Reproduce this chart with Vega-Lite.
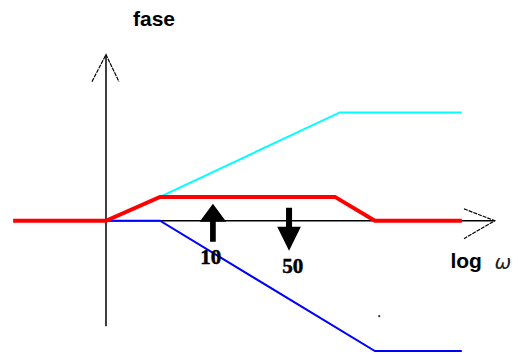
{
  "$schema": "https://vega.github.io/schema/vega-lite/v6.json",
  "width": 518,
  "height": 356,
  "autosize": {"type": "fit", "contains": "padding"},
  "padding": 0,
  "background": "white",
  "config": {"view": {"stroke": null}},
  "datasets": {
    "axes": [
      {"part": "h", "u": 0, "v": 0, "ord": 1},
      {"part": "h", "u": 7.2, "v": 0, "ord": 2},
      {"part": "v", "u": 0, "v": -4.42, "ord": 1},
      {"part": "v", "u": 0, "v": 6.96, "ord": 2},
      {"part": "hh", "u": 6.63, "v": 0.5, "ord": 1},
      {"part": "hh", "u": 7.2, "v": 0, "ord": 2},
      {"part": "hh", "u": 6.63, "v": -0.75, "ord": 3},
      {"part": "vh", "u": -0.26, "v": 5.83, "ord": 1},
      {"part": "vh", "u": 0, "v": 6.96, "ord": 2},
      {"part": "vh", "u": 0.24, "v": 5.83, "ord": 3}
    ],
    "curves": [
      {"series": "blue", "u": 0, "v": 0, "ord": 1},
      {"series": "blue", "u": 1, "v": 0, "ord": 2},
      {"series": "blue", "u": 4.98, "v": -5.46, "ord": 3},
      {"series": "blue", "u": 6.59, "v": -5.46, "ord": 4},
      {"series": "cyan", "u": 0, "v": 0, "ord": 1},
      {"series": "cyan", "u": 1, "v": 1, "ord": 2},
      {"series": "cyan", "u": 4.33, "v": 4.54, "ord": 3},
      {"series": "cyan", "u": 6.59, "v": 4.54, "ord": 4},
      {"series": "red", "u": -1.72, "v": 0, "ord": 1},
      {"series": "red", "u": 0, "v": 0, "ord": 2},
      {"series": "red", "u": 1, "v": 1, "ord": 3},
      {"series": "red", "u": 4.24, "v": 1, "ord": 4},
      {"series": "red", "u": 4.98, "v": 0, "ord": 5},
      {"series": "red", "u": 6.59, "v": 0, "ord": 6}
    ],
    "arrows": [
      {"dir": "up", "u": 1.98, "v": -0.083},
      {"dir": "down", "u": 3.39, "v": -0.354}
    ],
    "dots": [
      {"u": 5.06, "v": -4.0}
    ],
    "labels": [
      {"kind": "title", "text": "fase", "u": 0.889, "v": 8.42},
      {"kind": "title", "text": "log", "u": 6.67, "v": -1.71},
      {"kind": "omega", "text": "ω", "u": 7.35, "v": -1.75},
      {"kind": "num", "text": "10", "u": 1.94, "v": -1.58},
      {"kind": "num", "text": "50", "u": 3.46, "v": -1.92}
    ]
  },
  "layer": [
    {
      "data": {"name": "axes"},
      "transform": [{"filter": "datum.part === 'h' || datum.part === 'v'"}],
      "mark": {"type": "line", "color": "black", "strokeWidth": 1.5},
      "encoding": {
        "x": {"field": "u", "type": "quantitative", "scale": {"domain": [-1.963, 7.63], "nice": false, "zero": false}, "axis": null},
        "y": {"field": "v", "type": "quantitative", "scale": {"domain": [-5.583, 9.25], "nice": false, "zero": false}, "axis": null},
        "detail": {"field": "part"},
        "order": {"field": "ord"}
      }
    },
    {
      "data": {"name": "axes"},
      "transform": [{"filter": "datum.part === 'hh' || datum.part === 'vh'"}],
      "mark": {"type": "line", "color": "black", "strokeWidth": 1.2, "strokeDash": [4, 1]},
      "encoding": {
        "x": {"field": "u", "type": "quantitative"},
        "y": {"field": "v", "type": "quantitative"},
        "detail": {"field": "part"},
        "order": {"field": "ord"}
      }
    },
    {
      "data": {"name": "curves"},
      "transform": [{"filter": "datum.series === 'blue'"}],
      "mark": {"type": "line", "color": "#0000ff", "strokeWidth": 2},
      "encoding": {
        "x": {"field": "u", "type": "quantitative"},
        "y": {"field": "v", "type": "quantitative"},
        "order": {"field": "ord"}
      }
    },
    {
      "data": {"name": "curves"},
      "transform": [{"filter": "datum.series === 'cyan'"}],
      "mark": {"type": "line", "color": "#00ffff", "strokeWidth": 2},
      "encoding": {
        "x": {"field": "u", "type": "quantitative"},
        "y": {"field": "v", "type": "quantitative"},
        "order": {"field": "ord"}
      }
    },
    {
      "data": {"name": "curves"},
      "transform": [{"filter": "datum.series === 'red'"}],
      "mark": {"type": "line", "color": "#ff0000", "strokeWidth": 4},
      "encoding": {
        "x": {"field": "u", "type": "quantitative"},
        "y": {"field": "v", "type": "quantitative"},
        "order": {"field": "ord"}
      }
    },
    {
      "data": {"name": "arrows"},
      "transform": [{"filter": "datum.dir === 'up'"}],
      "mark": {"type": "point", "filled": true, "color": "black", "opacity": 1, "size": 1444, "shape": "M0,-1L0.7,-0.05L0.15,-0.05L0.15,1L-0.15,1L-0.15,-0.05L-0.7,-0.05Z"},
      "encoding": {
        "x": {"field": "u", "type": "quantitative"},
        "y": {"field": "v", "type": "quantitative"}
      }
    },
    {
      "data": {"name": "arrows"},
      "transform": [{"filter": "datum.dir === 'down'"}],
      "mark": {"type": "point", "filled": true, "color": "black", "opacity": 1, "size": 1849, "shape": "M0,1L0.55,-0.12L0.14,-0.12L0.14,-1L-0.14,-1L-0.14,-0.12L-0.55,-0.12Z"},
      "encoding": {
        "x": {"field": "u", "type": "quantitative"},
        "y": {"field": "v", "type": "quantitative"}
      }
    },
    {
      "data": {"name": "dots"},
      "mark": {"type": "point", "filled": true, "color": "#333333", "opacity": 1, "size": 5},
      "encoding": {
        "x": {"field": "u", "type": "quantitative"},
        "y": {"field": "v", "type": "quantitative"}
      }
    },
    {
      "data": {"name": "labels"},
      "transform": [{"filter": "datum.kind === 'title'"}],
      "mark": {"type": "text", "font": "Liberation Sans", "fontWeight": "bold", "fontSize": 21, "align": "center", "baseline": "middle", "color": "black"},
      "encoding": {
        "x": {"field": "u", "type": "quantitative"},
        "y": {"field": "v", "type": "quantitative"},
        "text": {"field": "text"}
      }
    },
    {
      "data": {"name": "labels"},
      "transform": [{"filter": "datum.kind === 'omega'"}],
      "mark": {"type": "text", "font": "DejaVu Sans", "fontStyle": "italic", "fontSize": 20, "align": "center", "baseline": "middle", "color": "#222222"},
      "encoding": {
        "x": {"field": "u", "type": "quantitative"},
        "y": {"field": "v", "type": "quantitative"},
        "text": {"field": "text"}
      }
    },
    {
      "data": {"name": "labels"},
      "transform": [{"filter": "datum.kind === 'num'"}],
      "mark": {"type": "text", "font": "Liberation Serif", "fontWeight": "bold", "fontSize": 21, "align": "center", "baseline": "middle", "color": "black", "stroke": "black", "strokeWidth": 0.5},
      "encoding": {
        "x": {"field": "u", "type": "quantitative"},
        "y": {"field": "v", "type": "quantitative"},
        "text": {"field": "text"}
      }
    }
  ]
}
